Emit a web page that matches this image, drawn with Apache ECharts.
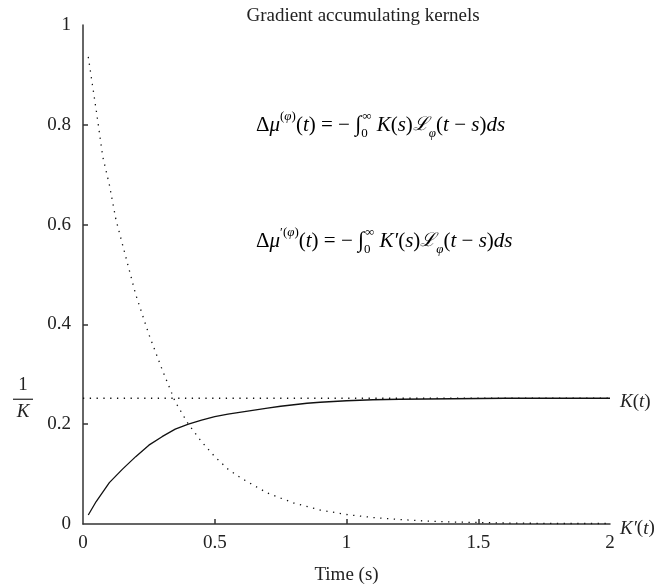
<!DOCTYPE html>
<html>
<head>
<meta charset="utf-8">
<script src="https://cdn.jsdelivr.net/npm/echarts@6/dist/echarts.min.js"></script>
<style>html,body{margin:0;padding:0;background:#fff}#c{width:665px;height:586px}</style>
</head>
<body>
<div id="c"></div>
<script>
// ---- data ----
const titleText = 'Gradient accumulating kernels';
const xTicks = [0, 0.5, 1, 1.5, 2];
const yTicks = [0, 0.2, 0.4, 0.6, 0.8, 1];
const invK = 0.252;
const refLineX = [-0.155, 2];
const kT = [0.02,0.05,0.1,0.15,0.2,0.25,0.3,0.35,0.4,0.45,0.5,0.55,0.6,0.65,0.7,0.75,0.8,0.85,0.9,1.0,1.1,1.2,1.4,1.6,2.0];
const kVal = [0.018,0.045,0.083,0.11,0.135,0.158,0.175,0.19,0.2,0.208,0.215,0.22,0.224,0.228,0.232,0.236,0.239,0.242,0.244,0.247,0.249,0.25,0.251,0.252,0.252];
const kpT = [0.02,0.05,0.075,0.1,0.125,0.15,0.175,0.2,0.25,0.3,0.35,0.4,0.45,0.5,0.55,0.6,0.7,0.8,0.9,1.0,1.1,1.2,1.3,1.4,1.5,1.6,1.8,2.0];
const kpVal = [0.936,0.83,0.736,0.68,0.61,0.56,0.51,0.46,0.38,0.31,0.245,0.2,0.165,0.135,0.11,0.092,0.062,0.042,0.028,0.019,0.013,0.009,0.006,0.004,0.003,0.002,0.001,0.001];

const FONT = 'Liberation Serif';
const INK = '#222';
const rich = {
  u: {fontFamily: FONT, fontSize: 21, color: INK, lineHeight: 30, verticalAlign: 'middle'},
  i: {fontFamily: FONT, fontSize: 21, fontStyle: 'italic', color: INK, lineHeight: 30, verticalAlign: 'middle'},
  int: {fontFamily: FONT, fontSize: 22, color: INK, lineHeight: 30, verticalAlign: 'middle'},
  sup: {fontFamily: FONT, fontSize: 13, fontStyle: 'italic', color: INK, lineHeight: 16, verticalAlign: 'top'},
  supu: {fontFamily: FONT, fontSize: 13, color: INK, lineHeight: 16, verticalAlign: 'top'},
  sub: {fontFamily: FONT, fontSize: 13, fontStyle: 'italic', color: INK, lineHeight: 13, verticalAlign: 'bottom'},
  sub0: {fontFamily: FONT, fontSize: 13, color: INK, lineHeight: 13, verticalAlign: 'bottom', width: 1},
  scr: {fontFamily: FONT, fontSize: 19, fontStyle: 'italic', color: INK, lineHeight: 30, verticalAlign: 'middle'}
};
const labelRich = {
  u: {fontFamily: FONT, fontSize: 19, color: INK},
  i: {fontFamily: FONT, fontSize: 19, fontStyle: 'italic', color: INK}
};

const toPairs = (xs, ys) => xs.map((x, k) => [x, ys[k]]);

const chart = echarts.init(document.getElementById('c'), null, {renderer: 'canvas'});
const axisText = {fontFamily: FONT, fontSize: 19, color: INK};
chart.setOption({
  animation: false,
  backgroundColor: '#fff',
  title: {text: titleText, left: 358, top: 2, textAlign: 'center',
    textStyle: {fontFamily: FONT, fontSize: 19, fontWeight: 'normal', color: INK}},
  grid: {left: 83, right: 55, top: 25, bottom: 62, containLabel: false, outerBoundsMode: 'none'},
  xAxis: {
    type: 'value', min: 0, max: 2, interval: 0.5,
    name: 'Time (s)', nameLocation: 'middle', nameGap: 42,
    nameTextStyle: {fontFamily: FONT, fontSize: 19, color: INK},
    axisLine: {show: true, lineStyle: {color: '#333', width: 1.5}},
    axisTick: {show: true, inside: true, length: 5, customValues: [0.5, 1, 1.5], lineStyle: {color: '#333', width: 1.5}},
    axisLabel: Object.assign({margin: 10, customValues: xTicks}, axisText),
    splitLine: {show: false}
  },
  yAxis: {
    type: 'value', min: 0, max: 1, interval: 0.2,
    axisLine: {show: true, lineStyle: {color: '#333', width: 1.5}},
    axisTick: {show: true, inside: true, length: 5, customValues: [0.2, 0.4, 0.6, 0.8], lineStyle: {color: '#333', width: 1.5}},
    axisLabel: Object.assign({margin: 12, customValues: yTicks}, axisText),
    splitLine: {show: false}
  },
  series: [
    {
      type: 'line', name: 'K(t)', data: toPairs(kT, kVal), showSymbol: false, symbol: 'none',
      lineStyle: {color: '#111', width: 1.3}, z: 3
    },
    {
      type: 'line', name: "K'(t)", data: toPairs(kpT, kpVal), showSymbol: false, symbol: 'none',
      lineStyle: {color: '#111', width: 1.3, type: [1.3, 5.5]},
      endLabel: {show: true, distance: 10, offset: [0, 5], formatter: '{i|K′}{u|(}{i|t}{u|)}', rich: labelRich}
    },
    {
      type: 'line', name: '1/K', data: refLineX.map(x => [x, invK]), clip: false, showSymbol: false, symbol: 'none',
      lineStyle: {color: '#111', width: 1.3, type: [1.3, 5.5]},
      endLabel: {show: true, distance: 10, offset: [0, 4], formatter: '{i|K}{u|(}{i|t}{u|)}', rich: labelRich}
    }
  ]
});

const yInv = chart.convertToPixel({yAxisIndex: 0}, invK);
chart.setOption({
  graphic: [
    {type: 'text', left: 256, top: 110, style: {
      text: '{u|Δ}{i|μ}{supu|(}{sup|φ}{supu|)}{u|(}{i|t}{u|) = − }{int|∫}{sub0|0}{supu|∞}{u| }{i|K}{u|(}{i|s}{u|)}{scr|ℒ}{sub|φ}{u|(}{i|t}{u| − }{i|s}{u|)}{i|ds}',
      rich: rich}},
    {type: 'text', left: 256, top: 226, style: {
      text: '{u|Δ}{i|μ}{supu|′(}{sup|φ}{supu|)}{u|(}{i|t}{u|) = − }{int|∫}{sub0|0}{supu|∞}{u| }{i|K′}{u|(}{i|s}{u|)}{scr|ℒ}{sub|φ}{u|(}{i|t}{u| − }{i|s}{u|)}{i|ds}',
      rich: rich}},
    {type: 'text', x: 23, y: yInv - 4, style: {text: '1', fontFamily: FONT, fontSize: 19, fill: INK, align: 'center', verticalAlign: 'bottom'}},
    {type: 'line', shape: {x1: 13, y1: yInv + 1, x2: 33, y2: yInv + 1}, style: {stroke: INK, lineWidth: 1.2}},
    {type: 'text', x: 23, y: yInv + 4, style: {text: 'K', fontFamily: FONT, fontSize: 19, fontStyle: 'italic', fill: INK, align: 'center', verticalAlign: 'top'}}
  ]
});
</script>
</body>
</html>
